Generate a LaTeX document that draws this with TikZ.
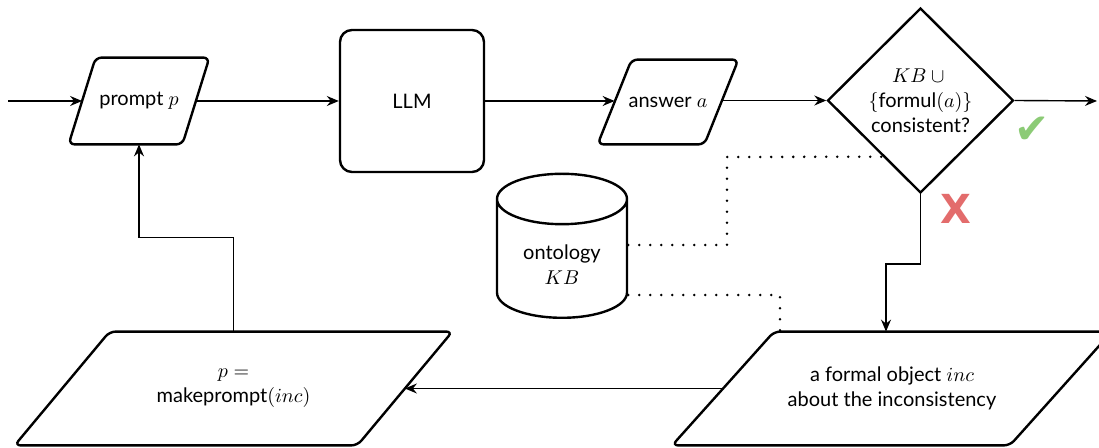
\documentclass[tikz,border=0pt]{standalone}
\usepackage{fontspec}
\setmainfont{Lato}
\newfontfamily\symfont{DejaVu Sans}
\usetikzlibrary{shapes.geometric,shapes.symbols,arrows.meta,calc}
\definecolor{okgreen}{HTML}{8CCB76}
\definecolor{badred}{HTML}{E36C6C}

% parallelogram frame for a data node: the slanted sides pass through the
% node's west/east anchors; #2 is the offset between top and bottom edges
\newcommand\ioframe[2]{%
  \draw[line width=1.2pt, rounded corners=3pt]
    ([xshift=-#2/2]#1.south west) -- ([xshift=-#2/2]#1.south east)
    -- ([xshift=#2/2]#1.north east) -- ([xshift=#2/2]#1.north west) -- cycle;}

\begin{document}
\begin{tikzpicture}[x=0.5pt,y=-0.5pt,
  boxtext/.style={align=center, inner sep=0pt, font=\fontsize{10}{12.5}\selectfont},
  outline/.style={boxtext, draw, line width=1.2pt},
  iobox/.style={boxtext, rectangle},
  flow/.style={line width=0.7pt, -{Stealth[length=6pt,width=5pt,inset=2pt]}},
  dotline/.style={line width=1.4pt, line cap=round, dash pattern=on 0pt off 5.5pt}
]
\useasboundingbox (0,0) rectangle (1099,448);

% main pipeline
\coordinate (start) at (8,101);
\node[iobox, minimum width=56.5pt, minimum height=43pt] (prompt) at (139,101) {prompt $p$};
\ioframe{prompt}{13.5pt}
\node[outline, rectangle, rounded corners=6pt, minimum width=72pt, minimum height=71pt]
      (llm) at (412,101) {LLM};
\node[iobox, minimum width=53pt, minimum height=42pt] (answer) at (668,102) {answer $a$};
\ioframe{answer}{17pt}
\node[outline, diamond, minimum width=93pt, minimum height=92.5pt]
      (check) at (920.5,100.5) {$KB\cup{}$\\$\{$formul$(a)\}$\\consistent?};
\coordinate (finish) at (1097,101);

% knowledge base
\node[outline, cylinder, shape border rotate=90, aspect=0.65,
      minimum width=65pt, minimum height=72pt] (kb) at (562,259)
      {\rule{0pt}{13pt}ontology\\$KB$};

% feedback loop
\node[iobox, minimum width=168.5pt, minimum height=56.5pt] (inc) at (892,388.5)
      {a formal object $inc$\\about the inconsistency};
\ioframe{inc}{51pt}
\node[iobox, minimum width=171pt, minimum height=56.5pt] (make) at (233.5,388.5)
      {$p=$\\makeprompt$(inc)$};
\ioframe{make}{47.5pt}

% outcome marks
\node[text=okgreen, font=\symfont\fontsize{21}{21}\selectfont] (yes) at (1032,130) {✔};
\node[text=badred, font=\symfont\bfseries\fontsize{20}{20}\selectfont] (no) at (956,209) {X};

% connectors
\draw[flow] (start) -- (prompt.west);
\draw[flow] (prompt.east) -- (llm.west);
\draw[flow] (llm.east) -- (answer.west |- llm.east);
\draw[flow] (answer.east |- check.west) -- (check.west);
\draw[flow] (check.east) -- (finish);
\draw[flow] (check.south) -- ++(0,70) -| ([xshift=-3pt]inc.north);
\draw[flow] (inc.west) -- (make.east);
\draw[flow] (make.north) -- ++(0,-94) -| (prompt.south);

% dotted links to the knowledge base
\coordinate (kbtouch) at ($(check.west)!0.6!(check.south)$);
\coordinate (inctouch) at (780,332);
\draw[dotline] ([yshift=7pt]kb.east) -| (727,157) -- (kbtouch);
\draw[dotline] ([yshift=-18pt]kb.east) -| (inctouch);
\end{tikzpicture}
\end{document}
